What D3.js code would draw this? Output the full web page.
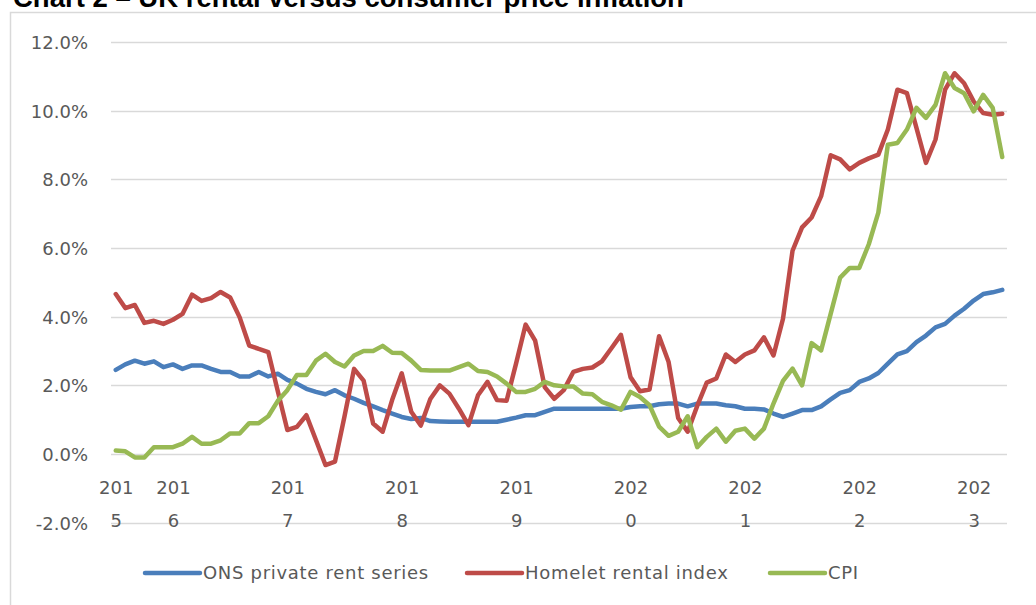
<!DOCTYPE html>
<html>
<head>
<meta charset="utf-8">
<script src="https://cdn.jsdelivr.net/npm/d3@7"></script>
<style>
  html, body { margin: 0; padding: 0; background: #ffffff; }
  svg { display: block; }
</style>
</head>
<body>
<svg id="chart" width="1036" height="605"></svg>
<script>
// ---- Data (monthly, Jul 2015 – Apr 2023) ----
const startYear = 2015, startMonth = 7, monthCount = 94;
const months = [];
for (let i = 0; i < monthCount; i++) {
  const m = (startMonth - 1 + i) % 12 + 1;
  const y = startYear + Math.floor((startMonth - 1 + i) / 12);
  months.push(y + "-" + String(m).padStart(2, "0"));
}

const onsRent = [
  2.45, 2.61, 2.72, 2.63, 2.70, 2.53,
  2.61, 2.48, 2.58, 2.58, 2.48, 2.39, 2.39, 2.26, 2.26, 2.39, 2.26, 2.34,
  2.16, 2.05, 1.90, 1.81, 1.74, 1.86, 1.71, 1.61, 1.49, 1.39, 1.28, 1.18,
  1.08, 1.02, 1.05, 0.96, 0.95, 0.94, 0.94, 0.94, 0.94, 0.94, 0.94, 1.00,
  1.06, 1.13, 1.13, 1.23, 1.32, 1.32, 1.32, 1.32, 1.32, 1.32, 1.32, 1.32,
  1.37, 1.39, 1.39, 1.45, 1.47, 1.47, 1.39, 1.47, 1.47, 1.47, 1.42, 1.39,
  1.32, 1.32, 1.30, 1.18, 1.08, 1.18, 1.28, 1.28, 1.39, 1.59, 1.78, 1.86,
  2.10, 2.20, 2.36, 2.63, 2.90, 3.00, 3.26, 3.45, 3.69, 3.79, 4.03, 4.23,
  4.47, 4.66, 4.71, 4.78
];

const homelet = [
  4.66, 4.25, 4.34, 3.82, 3.88, 3.79,
  3.91, 4.08, 4.64, 4.46, 4.54, 4.72, 4.56, 3.98, 3.16, 3.06, 2.97, 1.83,
  0.70, 0.79, 1.13, 0.41, -0.32, -0.22, 1.10, 2.48, 2.14, 0.89, 0.65, 1.58,
  2.35, 1.23, 0.83, 1.60, 2.00, 1.76, 1.32, 0.84, 1.71, 2.10, 1.57, 1.55,
  2.64, 3.77, 3.30, 1.95, 1.61, 1.86, 2.39, 2.48, 2.52, 2.70, 3.08, 3.47,
  2.24, 1.83, 1.88, 3.43, 2.68, 1.05, 0.65, 1.40, 2.08, 2.20, 2.90, 2.68,
  2.90, 3.02, 3.40, 2.87, 3.94, 5.92, 6.60, 6.89, 7.51, 8.70, 8.58, 8.29,
  8.48, 8.61, 8.72, 9.45, 10.61, 10.51, 9.50, 8.48, 9.16, 10.61, 11.09, 10.80,
  10.27, 9.93, 9.88, 9.91
];

const cpi = [
  0.10, 0.08, -0.10, -0.10, 0.20, 0.20,
  0.20, 0.30, 0.50, 0.30, 0.30, 0.40, 0.60, 0.60, 0.90, 0.90, 1.10, 1.55,
  1.86, 2.30, 2.30, 2.72, 2.92, 2.68, 2.55, 2.87, 3.00, 3.00, 3.15, 2.95,
  2.94, 2.72, 2.45, 2.43, 2.43, 2.43, 2.53, 2.63, 2.42, 2.39, 2.26, 2.05,
  1.81, 1.81, 1.90, 2.10, 2.00, 1.97, 1.97, 1.76, 1.74, 1.52, 1.42, 1.29,
  1.81, 1.66, 1.42, 0.80, 0.53, 0.65, 1.10, 0.20, 0.50, 0.74, 0.36, 0.68,
  0.74, 0.45, 0.74, 1.47, 2.13, 2.49, 2.00, 3.23, 3.02, 4.08, 5.14, 5.42,
  5.42, 6.11, 7.03, 9.01, 9.06, 9.45, 10.08, 9.79, 10.17, 11.09, 10.66, 10.51,
  9.98, 10.46, 10.08, 8.65
];

const yTicks = [-2, 0, 2, 4, 6, 8, 10, 12];
const titleText = "Chart 2 \u2013 UK rental versus consumer price inflation";

const seriesDefs = [
  { name: "ONS private rent series", values: onsRent, color: "#4a7ebb" },
  { name: "Homelet rental index", values: homelet, color: "#be4b48" },
  { name: "CPI", values: cpi, color: "#98b954" }
];

// Year labels sit on the first month and on each January
const yearTickMonths = months.filter((m, i) => i === 0 || m.endsWith("-01"));

// ---- Layout ----
const svg = d3.select("#chart");
const font = "'DejaVu Sans', sans-serif";
const plot = { left: 111, right: 1007, top: 42, zeroY: 454 };

const x = d3.scalePoint().domain(months).range([plot.left, plot.right]).padding(0.5);
const y = d3.scaleLinear().domain([-2, 12]).range([522.7, 42]);

// Chart outer border (extends beyond the visible frame)
svg.append("rect")
  .attr("x", 10.5).attr("y", 12.5).attr("width", 1200).attr("height", 800)
  .attr("fill", "none").attr("stroke", "#d9d9d9").attr("stroke-width", 1.5);

// Title (partially cut off at the top, as in the source)
svg.append("text")
  .attr("x", 13).attr("y", 7)
  .attr("font-family", "'Liberation Sans', Arial, sans-serif")
  .attr("font-weight", "bold").attr("font-size", 27.5)
  .attr("fill", "#000").text(titleText);

// Gridlines
svg.append("g").selectAll("line").data(yTicks).join("line")
  .attr("x1", plot.left).attr("x2", plot.right)
  .attr("y1", d => Math.round(y(d)) + 0.5).attr("y2", d => Math.round(y(d)) + 0.5)
  .attr("stroke", "#d9d9d9").attr("stroke-width", 1.5);

// Y axis labels (hyphen-minus like the source)
const yAxis = d3.axisLeft(y).tickValues(yTicks).tickSize(0).tickPadding(0)
  .tickFormat(d => (d < 0 ? "-" : "") + Math.abs(d).toFixed(1) + "%");
const gy = svg.append("g").attr("transform", "translate(88,0)").call(yAxis);
gy.select(".domain").remove();
gy.selectAll("text")
  .attr("font-family", font).attr("font-size", 18).attr("fill", "#595959")
  .attr("dy", "0.36em");

// X axis labels (wrapped "201" / "5")
const xAxis = d3.axisBottom(x).tickValues(yearTickMonths).tickSize(0)
  .tickFormat(d => d.slice(0, 4));
const gx = svg.append("g").attr("transform", `translate(0,${plot.zeroY})`).call(xAxis);
gx.select(".domain").remove();
gx.selectAll("text").each(function(d) {
  const t = d3.select(this);
  const yr = d.slice(0, 4);
  t.text(null).attr("y", 0).attr("dy", null)
    .attr("font-family", font).attr("font-size", 18).attr("fill", "#595959");
  t.append("tspan").attr("x", 0).attr("y", 40).text(yr.slice(0, 3));
  t.append("tspan").attr("x", 0).attr("y", 73).text(yr.slice(3));
});

// Lines
const line = d3.line()
  .x((d, i) => x(months[i]))
  .y(d => y(d));

svg.append("g").selectAll("path").data(seriesDefs).join("path")
  .attr("d", s => line(s.values))
  .attr("fill", "none")
  .attr("stroke", s => s.color)
  .attr("stroke-width", 4.5)
  .attr("stroke-linejoin", "round")
  .attr("stroke-linecap", "round");

// Legend
const legendItems = [
  { x: 145, def: seriesDefs[0] },
  { x: 467, def: seriesDefs[1] },
  { x: 770, def: seriesDefs[2] }
];
const lg = svg.append("g");
legendItems.forEach(it => {
  lg.append("line")
    .attr("x1", it.x).attr("x2", it.x + 55)
    .attr("y1", 573).attr("y2", 573)
    .attr("stroke", it.def.color).attr("stroke-width", 4.5)
    .attr("stroke-linecap", "round");
  lg.append("text")
    .attr("x", it.x + 58).attr("y", 579)
    .attr("font-family", font).attr("font-size", 18).attr("fill", "#595959")
    .attr("letter-spacing", 0.7)
    .text(it.def.name);
});
</script>
</body>
</html>
